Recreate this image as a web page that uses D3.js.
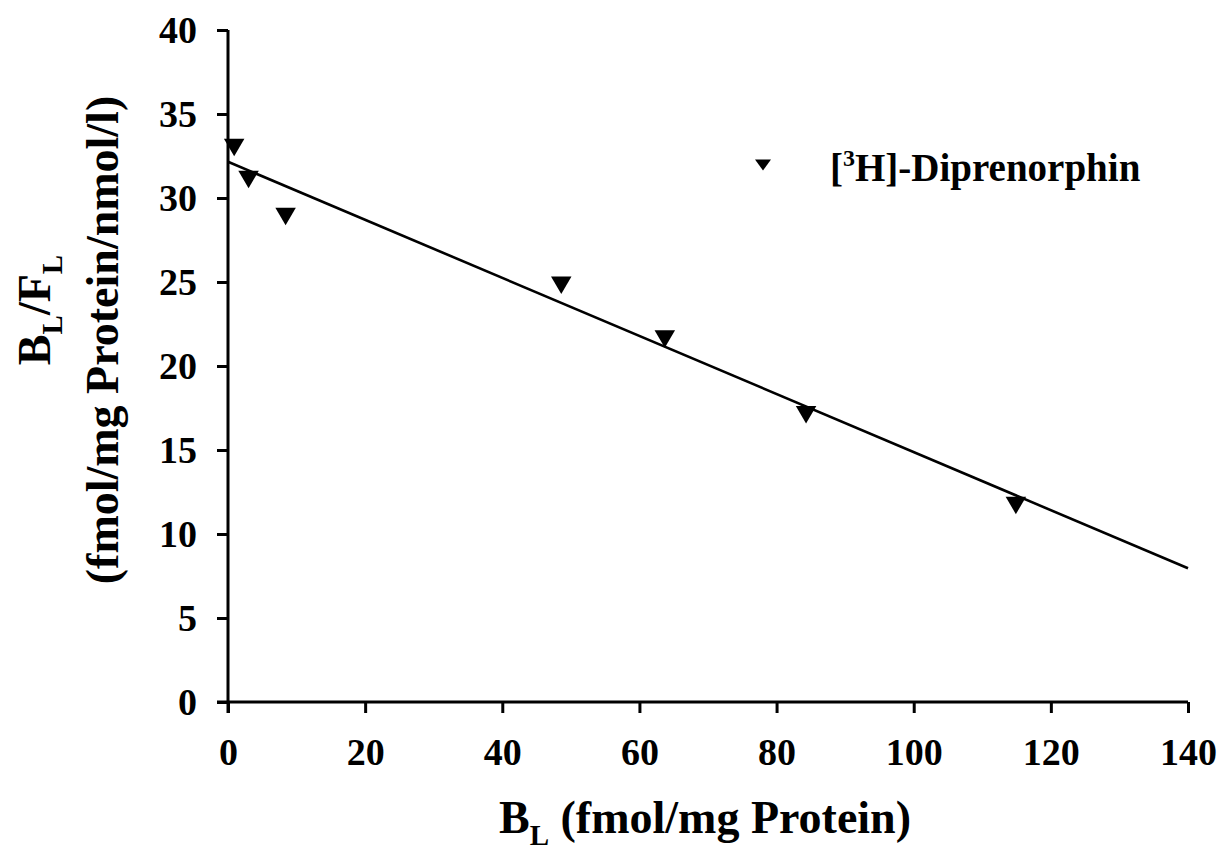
<!DOCTYPE html>
<html>
<head>
<meta charset="utf-8">
<script src="https://cdn.jsdelivr.net/npm/d3@7"></script>
<style>
  html, body { margin: 0; padding: 0; background: #fff; }
  svg { display: block; }
  text { font-family: "Liberation Serif", "Times New Roman", serif; font-weight: bold; fill: #000; }
</style>
</head>
<body>
<svg id="chart" width="1226" height="859"></svg>
<script>
// Data
const boundValues = [0.9, 3.0, 8.4, 48.6, 63.7, 84.3, 114.9];
const ratioValues = [33.0, 31.1, 28.9, 24.8, 21.6, 17.1, 11.7];
const fitLine = [[0, 32.16], [140, 7.96]];
const xTicks = [0, 20, 40, 60, 80, 100, 120, 140];
const yTicks = [0, 5, 10, 15, 20, 25, 30, 35, 40];
const seriesName = "Diprenorphin";

const svg = d3.select("#chart");
const margin = { left: 228, right: 1188, top: 30, bottom: 702 };

const x = d3.scaleLinear().domain([0, 140]).range([margin.left, margin.right]);
const y = d3.scaleLinear().domain([0, 40]).range([margin.bottom, margin.top]);

// Axes
const xAxis = d3.axisBottom(x).tickValues(xTicks).tickSize(11).tickPadding(25).tickFormat(d3.format("d"));
const yAxis = d3.axisLeft(y).tickValues(yTicks).tickSize(11).tickPadding(20).tickFormat(d3.format("d"));

const gx = svg.append("g").attr("transform", `translate(0,${margin.bottom})`).call(xAxis);
const gy = svg.append("g").attr("transform", `translate(${margin.left},0)`).call(yAxis);

[gx, gy].forEach(g => {
  g.select(".domain").attr("stroke", "#000").attr("stroke-width", 3);
  g.selectAll(".tick line").attr("stroke", "#000").attr("stroke-width", 3);
  g.selectAll(".tick text").style("font-family", '"Liberation Serif", serif')
    .style("font-weight", "bold").style("font-size", "38px").attr("fill", "#000");
});
gx.select(".domain").attr("d", `M${margin.left - 11},0H${margin.right}`);
gy.select(".domain").attr("d", `M0,${margin.bottom + 11}V${margin.top}`);

// Regression line
svg.append("line")
  .attr("x1", x(fitLine[0][0])).attr("y1", y(fitLine[0][1]))
  .attr("x2", x(fitLine[1][0])).attr("y2", y(fitLine[1][1]))
  .attr("stroke", "#000").attr("stroke-width", 2.6);

// Markers: downward triangles
function tri(w, h) {
  return `M${-w/2},${-h/2}L${w/2},${-h/2}L0,${h/2}Z`;
}
svg.append("g").selectAll("path")
  .data(boundValues.map((b, i) => [b, ratioValues[i]]))
  .join("path")
  .attr("transform", d => `translate(${x(d[0])},${y(d[1])})`)
  .attr("d", tri(20.5, 17.5))
  .attr("fill", "#000");

// Legend
svg.append("path").attr("transform", "translate(763,165)").attr("d", tri(16, 11)).attr("fill", "#000");
const lt = svg.append("text").attr("x", 830).attr("y", 181).style("font-size", "39px");
lt.append("tspan").text("[");
lt.append("tspan").text("3").style("font-size", "24px").attr("dy", -15);
lt.append("tspan").text("H]-" + seriesName).attr("dy", 15);

// X axis title
const xt = svg.append("text").attr("x", 705).attr("y", 833).attr("text-anchor", "middle").style("font-size", "46px");
xt.append("tspan").text("B");
xt.append("tspan").text("L").style("font-size", "29px").attr("dy", 12);
xt.append("tspan").text(" (fmol/mg Protein)").attr("dy", -12);

// Y axis title (two lines, rotated)
const yg = svg.append("g").attr("transform", "translate(0,340) rotate(-90)");
const y1 = yg.append("text").attr("x", 30).attr("y", 50).attr("text-anchor", "middle").style("font-size", "46px");
y1.append("tspan").text("B");
y1.append("tspan").text("L").style("font-size", "29px").attr("dy", 12);
y1.append("tspan").text("/F").attr("dy", -12);
y1.append("tspan").text("L").style("font-size", "29px").attr("dy", 12);
yg.append("text").attr("x", 0).attr("y", 118).attr("text-anchor", "middle").style("font-size", "46px")
  .text("(fmol/mg Protein/nmol/l)");
</script>
</body>
</html>
